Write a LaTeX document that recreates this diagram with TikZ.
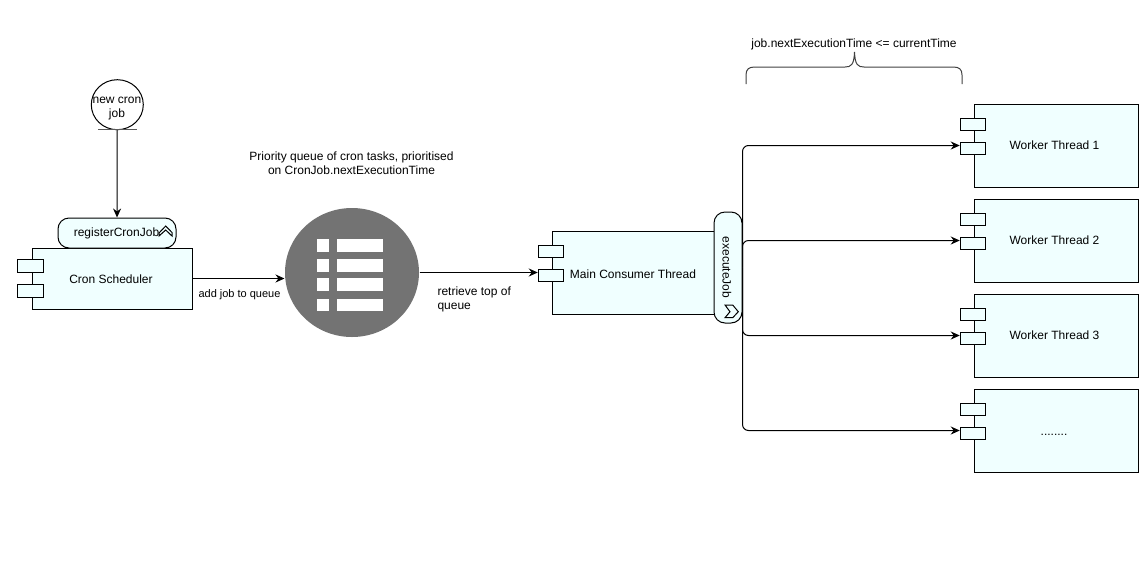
\documentclass[tikz,border=0pt]{standalone}
\usepackage{fontspec}
\setmainfont{Liberation Sans}
\usetikzlibrary{arrows.meta,shapes.geometric}
\definecolor{boxfill}{HTML}{F0FFFF}
\definecolor{queuegray}{HTML}{737373}
\tikzset{
  box/.style={draw, fill=boxfill, rectangle, inner sep=0pt, minimum width=#1},
  box/.default=164pt,
  part/.style={draw, fill=boxfill, rectangle, inner sep=0pt, minimum width=25.5pt, minimum height=12.5pt},
  pill/.style={draw, fill=boxfill, rectangle, rounded corners=11pt, inner sep=0pt},
  conn/.style={-{Stealth[length=9pt,width=8pt]}},
  txt/.style={font=\fontsize{12}{14}\selectfont, inner sep=0pt, align=center}
}
\begin{document}
\begin{tikzpicture}[x=1pt, y=-1pt, line width=1pt]
        \useasboundingbox (0,0) rectangle (1147,560);
        % new job
        \node[draw, ellipse, fill=white, minimum width=52pt, minimum height=50pt, inner sep=0pt] (newjob) at (117.3,104.7) {};
        \node[txt] (newjobtext) at (117,109) {new cron\\job};
        \coordinate (barleft) at (98,129.7);
        \coordinate (barright) at (137,129.7);
        \draw[gray!70!black, line width=1.2pt] (barleft) -- (barright);
        % scheduler
        \node[box=160pt, minimum height=61pt] (cron) at (112,278.5) {};
        \node[txt] (crontext) at (111,279) {Cron Scheduler};
        \node[part] (cronpa) at (30.7,266) {};
        \node[part] (cronpb) at (30.7,291) {};
        \node[pill, minimum width=118pt, minimum height=30pt] (register) at (117,233) {};
        \node[txt] (registertext) at (116.5,233.5) {registerCronJob};
        \draw (159,233) -- (165.7,226) -- (172,232.5) -- (172,236) -- (165.7,230) -- (159,236) -- cycle;
        % queue
        \node[ellipse, fill=queuegray, minimum width=134pt, minimum height=129pt, inner sep=0pt] (queue) at (352,272.5) {};
        \fill[white] (316.7,239) rectangle (329,252);
        \fill[white] (337,239) rectangle (383,252);
        \fill[white] (316.7,259) rectangle (329,272);
        \fill[white] (337,259) rectangle (383,272);
        \fill[white] (316.7,278) rectangle (329,291);
        \fill[white] (337,278) rectangle (383,291);
        \fill[white] (316.7,299) rectangle (329,311);
        \fill[white] (337,299) rectangle (383,311);
        \node[txt] (queuetext) at (351.5,163) {Priority queue of cron tasks, prioritised\\on CronJob.nextExecutionTime};
        \node[txt, font=\fontsize{11}{13}\selectfont] (addtext) at (239.5,295) {add job to queue};
        \node[txt, align=left, anchor=west] (retrievetext) at (437,299) {retrieve top of\\queue};
        % consumer
        \node[box=163pt, minimum height=83pt] (main) at (633.5,272.5) {};
        \node[txt] (maintext) at (633,274) {Main Consumer Thread};
        \node[part] (mainpa) at (551,251.5) {};
        \node[part] (mainpb) at (551,275.5) {};
        \node[pill, minimum width=28pt, minimum height=111pt] (exec) at (728,267.5) {};
        \node[txt, rotate=-90] (exectext) at (727,267.5) {executeJob};
        \draw (725,305) -- (732.7,305) -- (738.3,311.7) -- (732.7,317.7) -- (725,317.7) -- (730,311.7) -- cycle;
        % workers
        \node[box, minimum height=83pt] (wa) at (1056,145.5) {};
        \node[txt] (watext) at (1054.5,145.5) {Worker Thread 1};
        \node[part] (wapa) at (973,124.5) {};
        \node[part] (wapb) at (973,148.5) {};
        \node[box, minimum height=83pt] (wb) at (1056,240.5) {};
        \node[txt] (wbtext) at (1054.5,240.5) {Worker Thread 2};
        \node[part] (wbpa) at (973,219.5) {};
        \node[part] (wbpb) at (973,243.5) {};
        \node[box, minimum height=83pt] (wc) at (1056,335.5) {};
        \node[txt] (wctext) at (1054.5,335.5) {Worker Thread 3};
        \node[part] (wcpa) at (973,314.5) {};
        \node[part] (wcpb) at (973,338.5) {};
        \node[box, minimum height=83pt] (wd) at (1056,430.5) {};
        \node[txt] (wdtext) at (1054,435) {........};
        \node[part] (wdpa) at (973,409.5) {};
        \node[part] (wdpb) at (973,433.5) {};
        % brace
        \node[txt] (bracetext) at (854,44.5) {job.nextExecutionTime <= currentTime};
        \coordinate (bracel) at (746,84);
        \coordinate (bracer) at (962,84);
        \draw[gray!50!black] (bracel) -- (746,75) .. controls (746,69) and (749,67) .. (755,67) -- (845,67) .. controls (851,67) and (854,65) .. (854.5,52) .. controls (855,65) and (858,67) .. (864,67) -- (953,67) .. controls (959,67) and (962,69) .. (962,75) -- (bracer);
        % arrows
        \draw[conn] (newjob) -- (register);
        \draw[conn] (cron.east) -- (cron.east -| queue.west);
        \draw[conn] (queue.east) -- (mainpb.west |- queue.east);
        \draw[conn, rounded corners=6pt] (exec.east) |- (wapb.west |- wa.west);
        \draw[conn, rounded corners=6pt] (exec.east) |- (wbpb.west |- wb.west);
        \draw[conn, rounded corners=6pt] (exec.east) |- (wcpb.west |- wc.west);
        \draw[conn, rounded corners=6pt] (exec.east) |- (wdpb.west |- wd.west);
    \end{tikzpicture}
\end{document}
